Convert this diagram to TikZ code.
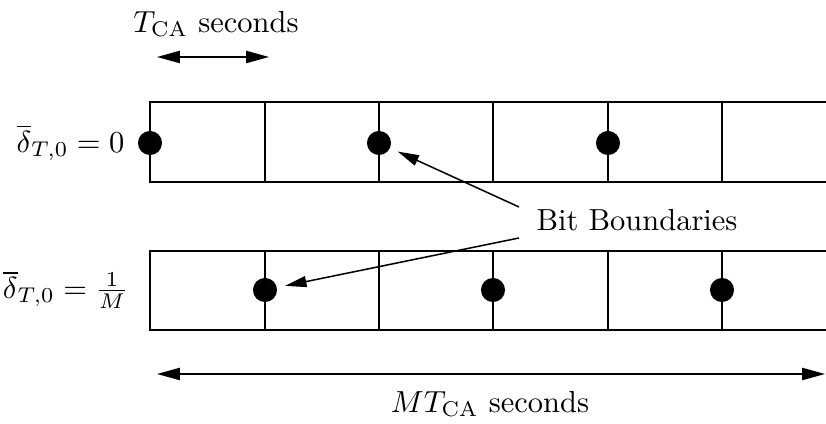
\documentclass[tikz,border=0pt]{standalone}
\usetikzlibrary{arrows.meta}
\begin{document}
\begin{tikzpicture}[x=0.328pt,y=-0.328pt,
  grid/.style={line width=0.65pt},
  dot/.style={circle,fill=black,inner sep=0pt,minimum size=7.9pt},
  dim/.style={line width=0.5pt,{Triangle[length=7.5pt,width=4pt]}-{Triangle[length=7.5pt,width=4pt]}},
  pointer/.style={line width=0.5pt,-{Triangle[length=7pt,width=3.6pt]},shorten >=2.6pt}]
\useasboundingbox (0,0) rectangle (826,424);
% top row
\draw[grid] (826,102) -- (150,102) -- (150,182) -- (826,182);
\foreach \x in {265,379,493,608,722} \draw[grid] (\x,102) -- (\x,182);
% bottom row
\draw[grid] (826,251) -- (150,251) -- (150,330) -- (826,330);
\foreach \x in {265,379,493,608,722} \draw[grid] (\x,251) -- (\x,330);
% dots
\node[dot] (t1) at (150,143) {};
\node[dot] (t2) at (379,143) {};
\node[dot] (t3) at (608,143) {};
\node[dot] (b1) at (265,290) {};
\node[dot] (b2) at (493,290) {};
\node[dot] (b3) at (722,290) {};
% row labels
\node[anchor=east,inner sep=0pt] (l1) at (125,143) {$\overline{\delta}_{T,0}=0$};
\node[anchor=east,inner sep=0pt] (l2) at (129,290) {$\overline{\delta}_{T,0}=\frac{1}{M}$};
% top dimension
\coordinate (ta) at (157,57);
\coordinate (tb) at (269,57);
\draw[dim] (ta) -- (tb);
\node (tl) at (216,24) {$T_{\mathrm{CA}}$ seconds};
% bottom dimension
\coordinate (ba) at (157,374);
\coordinate (bb) at (825,374);
\draw[dim] (ba) -- (bb);
\node (bl) at (490,404) {$MT_{\mathrm{CA}}$ seconds};
% bit boundaries
\node (bbt) at (637,220) {Bit Boundaries};
\coordinate (p1) at (519,207);
\coordinate (p2) at (519,238);
\draw[pointer] (p1) -- (t2);
\draw[pointer] (p2) -- (b1);
\end{tikzpicture}
\end{document}
